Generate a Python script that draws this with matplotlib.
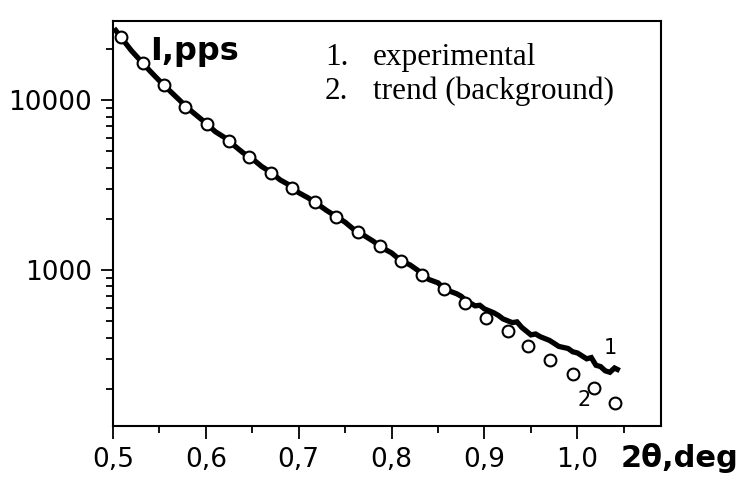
import matplotlib
matplotlib.use("Agg")
import matplotlib.pyplot as plt
from matplotlib.ticker import FixedLocator, FixedFormatter, NullFormatter

# experimental curve (1)
exp_x = [0.503, 0.51, 0.52, 0.53, 0.54, 0.55, 0.56, 0.57, 0.58, 0.59,
         0.60, 0.61, 0.62, 0.63, 0.64, 0.65, 0.66, 0.67, 0.68, 0.69,
         0.70, 0.71, 0.72, 0.73, 0.74, 0.75, 0.76, 0.77, 0.78, 0.79,
         0.80, 0.81, 0.82, 0.83, 0.84, 0.85, 0.855, 0.86, 0.87, 0.875,
         0.88, 0.89, 0.895, 0.90, 0.91, 0.915, 0.92, 0.93, 0.935, 0.94,
         0.95, 0.955, 0.96, 0.97, 0.975, 0.98, 0.99, 0.995, 1.00, 1.01,
         1.015, 1.02, 1.025, 1.03, 1.035, 1.04, 1.043]
exp_y = [25700, 22900, 19500, 17000, 14800, 13000, 11500, 10200, 9020, 8130,
         7330, 6530, 6030, 5430, 4900, 4520, 4070, 3760, 3390, 3160,
         2850, 2660, 2450, 2240, 2070, 1910, 1720, 1600, 1480, 1350,
         1260, 1135, 1070, 980, 880, 840, 790, 760, 725, 700,
         660, 615, 620, 590, 560, 540, 515, 490, 495, 460,
         415, 420, 405, 385, 370, 355, 345, 330, 325, 300,
         305, 275, 270, 255, 250, 265, 260]

# trend / background (2)
trend_x = [0.509, 0.532, 0.555, 0.578, 0.601, 0.625, 0.647, 0.670, 0.693, 0.717,
           0.740, 0.764, 0.788, 0.810, 0.833, 0.856, 0.879, 0.902, 0.925, 0.947,
           0.971, 0.995, 1.018, 1.040]
trend_y = [23400, 16500, 12200, 9150, 7190, 5730, 4600, 3730, 3040, 2500,
           2050, 1680, 1380, 1135, 935, 775, 640, 525, 435, 358,
           295, 243, 201, 165]

x_ticks = [0.5, 0.6, 0.7, 0.8, 0.9, 1.0]
x_tick_labels = ["0,5", "0,6", "0,7", "0,8", "0,9", "1,0"]
x_minor = [0.55, 0.65, 0.75, 0.85, 0.95, 1.05]
y_ticks = [1000, 10000]
y_tick_labels = ["1000", "10000"]

fig = plt.figure(figsize=(7.43, 4.94), dpi=100)
ax = fig.add_axes([0.152, 0.138, 0.7376, 0.82])

ax.plot(exp_x, exp_y, color="black", lw=3.8, solid_joinstyle="miter", zorder=2)
ax.plot(trend_x, trend_y, "o", ms=8.5, mfc="white", mec="black", mew=1.5, zorder=3)

ax.set_yscale("log")
ax.set_xlim(0.5, 1.09)
ax.set_ylim(121, 29300)

ax.xaxis.set_major_locator(FixedLocator(x_ticks))
ax.xaxis.set_major_formatter(FixedFormatter(x_tick_labels))
ax.xaxis.set_minor_locator(FixedLocator(x_minor))
ax.yaxis.set_major_locator(FixedLocator(y_ticks))
ax.yaxis.set_major_formatter(FixedFormatter(y_tick_labels))
ax.yaxis.set_minor_formatter(NullFormatter())

for s in ax.spines.values():
    s.set_linewidth(1.5)
ax.tick_params(which="both", direction="out", width=1.3, labelsize=19, pad=6)
ax.tick_params(which="major", length=9)
ax.tick_params(which="minor", length=5)

ax.text(0.067, 0.925, "I,pps", transform=ax.transAxes, fontsize=23,
        fontweight="bold", va="center", ha="left")
ax.text(0.387, 0.91, "1.", transform=ax.transAxes, fontsize=22.5,
        family="Liberation Serif", va="center", ha="left")
ax.text(0.474, 0.91, "experimental", transform=ax.transAxes, fontsize=22.5,
        family="Liberation Serif", va="center", ha="left")
ax.text(0.387, 0.825, "2.", transform=ax.transAxes, fontsize=22.5,
        family="Liberation Serif", va="center", ha="left")
ax.text(0.474, 0.825, "trend (background)", transform=ax.transAxes, fontsize=22.5,
        family="Liberation Serif", va="center", ha="left")

ax.text(1.035, 348, "1", fontsize=15, ha="center", va="center")
ax.text(1.007, 172, "2", fontsize=15, ha="center", va="center")

fig.text(0.835, 0.073, "2\u03b8,deg", fontsize=22, fontweight="bold",
         ha="left", va="center")

fig.savefig("out.png", dpi=100)
